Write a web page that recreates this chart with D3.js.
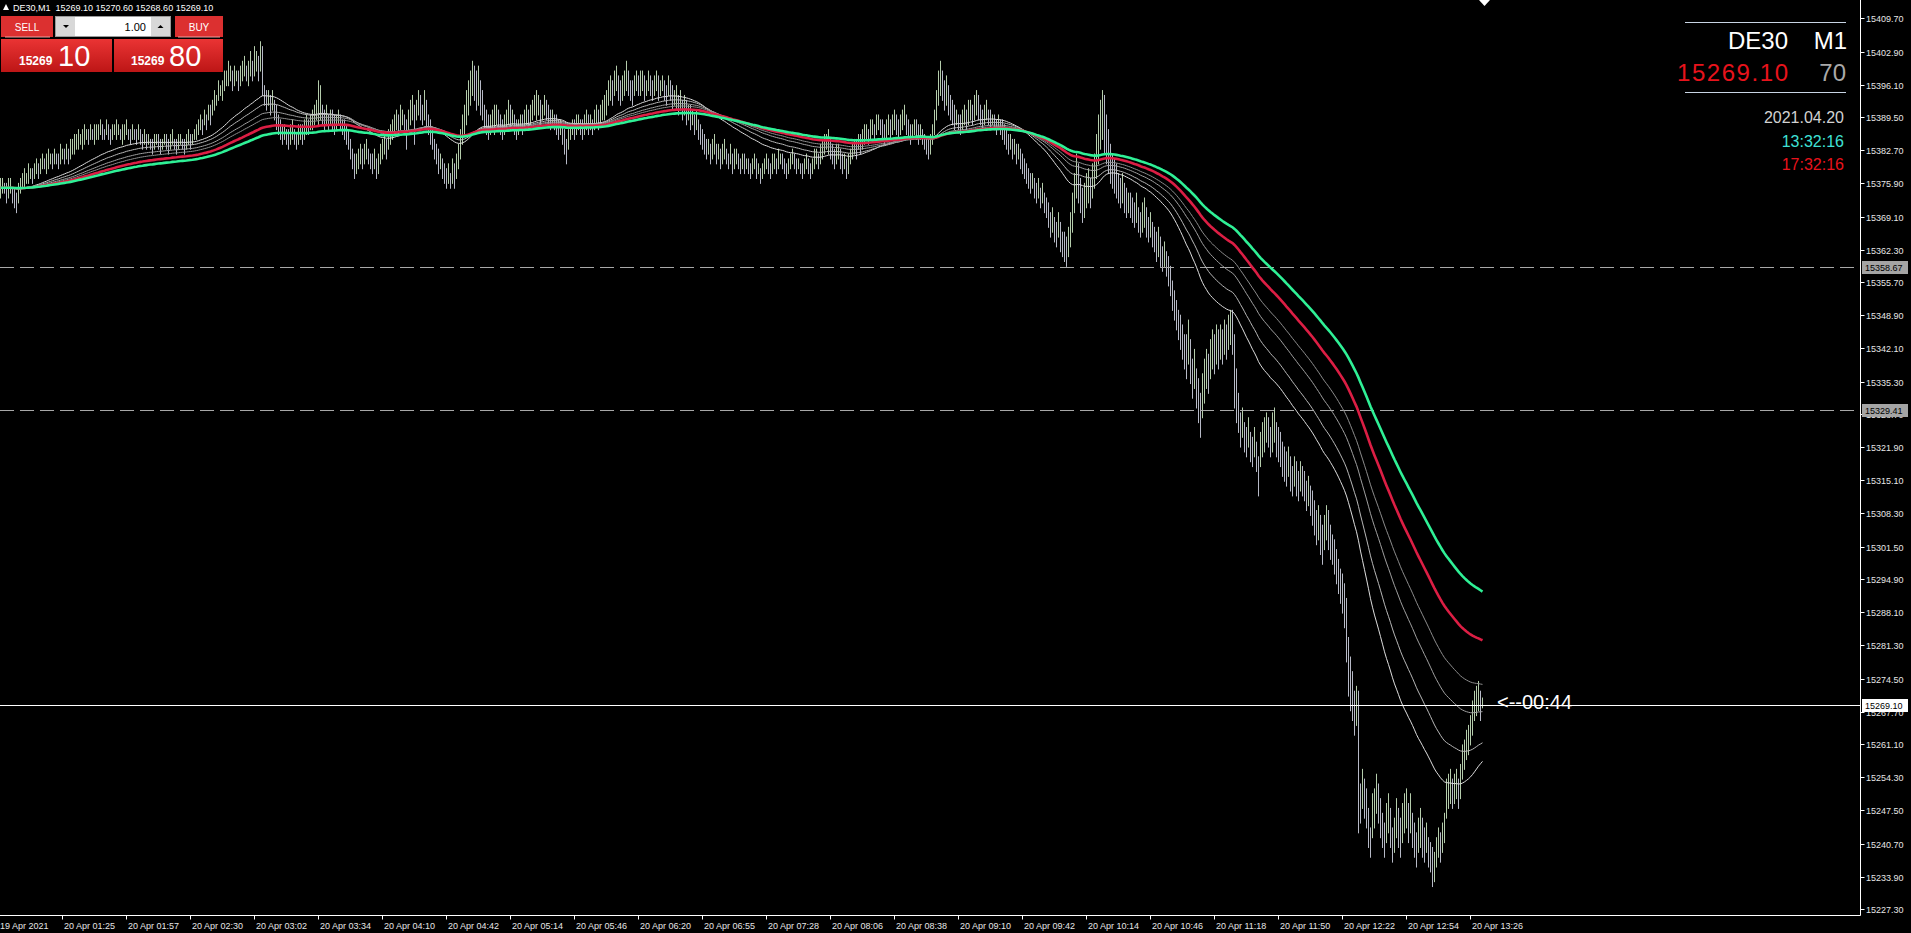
<!DOCTYPE html>
<html>
<head>
<meta charset="utf-8">
<script src="https://cdn.jsdelivr.net/npm/d3@7"></script>
<style>
  body { margin: 0; background: #000; overflow: hidden; }
  svg { display: block; }
  text { font-family: "Liberation Sans", Arial, sans-serif; }
</style>
</head>
<body>
<svg width="1911" height="933"></svg>
<script>
// DE30 M1 bars, one per minute (high / low)
var highs = [
  15377,15377,15376,15376,15377,15377,15375,15375,15374,15376,
  15377,15378,15379,15378,15380,15379,15379,15380,15381,15380,
  15381,15382,15381,15382,15383,15382,15382,15383,15382,15382,
  15384,15383,15383,15384,15383,15385,15385,15386,15386,15387,
  15386,15387,15388,15387,15387,15388,15387,15388,15388,15388,
  15389,15388,15387,15389,15388,15387,15388,15388,15389,15388,
  15387,15388,15388,15389,15387,15387,15388,15387,15387,15388,
  15387,15386,15387,15386,15386,15385,15385,15386,15386,15386,
  15385,15385,15386,15386,15385,15386,15387,15385,15385,15386,
  15386,15385,15385,15386,15387,15386,15386,15387,15388,15389,
  15390,15389,15391,15390,15392,15392,15393,15395,15394,15397,
  15396,15397,15399,15399,15401,15400,15399,15400,15399,15399,
  15400,15401,15402,15400,15401,15403,15401,15404,15403,15402,
  15405,15404,15396,15395,15395,15394,15395,15393,15392,15390,
  15389,15388,15388,15387,15387,15388,15389,15387,15386,15388,
  15388,15388,15389,15390,15389,15390,15391,15392,15393,15397,
  15396,15392,15391,15392,15390,15391,15391,15390,15390,15391,
  15390,15389,15389,15388,15387,15385,15383,15382,15382,15383,
  15384,15383,15384,15385,15383,15382,15382,15383,15381,15382,
  15384,15385,15386,15385,15387,15388,15389,15390,15391,15390,
  15392,15391,15390,15389,15391,15393,15394,15392,15393,15395,
  15394,15392,15395,15393,15390,15389,15387,15385,15384,15383,
  15382,15381,15380,15379,15380,15378,15381,15380,15382,15384,
  15387,15390,15392,15395,15397,15399,15401,15400,15399,15400,
  15397,15395,15392,15391,15390,15390,15391,15392,15392,15391,
  15390,15389,15390,15391,15393,15392,15391,15390,15389,15389,
  15390,15390,15391,15392,15391,15392,15393,15394,15395,15394,
  15393,15392,15394,15393,15392,15391,15391,15390,15390,15389,
  15389,15388,15387,15385,15387,15388,15389,15389,15390,15390,
  15389,15389,15390,15391,15390,15390,15389,15391,15392,15391,
  15392,15393,15394,15395,15397,15398,15397,15399,15400,15398,
  15397,15398,15399,15401,15399,15397,15397,15398,15399,15398,
  15399,15399,15398,15397,15399,15398,15397,15398,15399,15398,
  15397,15398,15397,15396,15398,15397,15396,15395,15396,15394,
  15395,15393,15394,15393,15392,15392,15391,15390,15391,15389,
  15388,15387,15386,15385,15385,15384,15385,15386,15384,15384,
  15383,15384,15385,15383,15382,15384,15382,15383,15383,15382,
  15381,15382,15382,15381,15381,15380,15381,15382,15381,15380,
  15379,15380,15381,15382,15381,15380,15382,15382,15381,15383,
  15382,15382,15381,15380,15381,15382,15383,15382,15381,15381,
  15380,15380,15381,15382,15381,15380,15381,15383,15383,15382,
  15384,15385,15386,15386,15387,15385,15384,15383,15384,15384,
  15383,15382,15382,15381,15382,15383,15384,15385,15385,15386,
  15386,15387,15388,15388,15387,15389,15389,15388,15390,15390,
  15389,15389,15388,15389,15390,15389,15390,15391,15390,15389,
  15390,15391,15392,15390,15389,15388,15388,15389,15389,15388,
  15388,15387,15386,15385,15385,15386,15388,15391,15395,15399,
  15401,15399,15397,15398,15396,15394,15393,15392,15391,15390,
  15390,15391,15392,15391,15393,15393,15392,15394,15395,15394,
  15392,15391,15392,15393,15391,15391,15390,15390,15389,15390,
  15389,15389,15388,15387,15386,15386,15385,15385,15384,15384,
  15383,15382,15381,15380,15379,15378,15378,15377,15376,15377,
  15375,15376,15374,15373,15372,15370,15371,15369,15368,15370,
  15368,15366,15366,15365,15367,15370,15374,15378,15382,15380,
  15377,15375,15376,15378,15379,15377,15380,15382,15386,15390,
  15393,15395,15394,15390,15387,15384,15382,15381,15380,15378,
  15377,15378,15376,15375,15374,15374,15373,15372,15374,15371,
  15370,15372,15373,15371,15369,15370,15368,15367,15366,15367,
  15365,15363,15364,15362,15361,15359,15356,15354,15352,15350,
  15349,15347,15345,15345,15348,15344,15340,15342,15338,15336,
  15333,15337,15340,15342,15341,15344,15346,15345,15347,15346,
  15347,15346,15348,15347,15349,15350,15350,15345,15338,15333,
  15329,15330,15327,15326,15328,15325,15324,15326,15323,15320,
  15325,15327,15328,15329,15328,15326,15329,15330,15327,15326,
  15325,15323,15322,15321,15322,15320,15318,15320,15319,15317,
  15319,15318,15317,15315,15316,15314,15313,15311,15309,15310,
  15308,15306,15308,15310,15309,15306,15304,15303,15301,15299,
  15297,15296,15294,15291,15283,15279,15276,15272,15273,15272,
  15253,15256,15254,15252,15248,15244,15251,15252,15255,15253,
  15250,15247,15245,15249,15251,15248,15244,15246,15250,15248,
  15246,15249,15251,15252,15249,15251,15247,15245,15243,15246,
  15248,15246,15244,15245,15242,15241,15240,15239,15242,15244,
  15243,15245,15247,15254,15255,15256,15254,15255,15256,15254,
  15257,15261,15262,15264,15265,15267,15270,15272,15273,15274,
  15272,15270.6
];
var lows = [
  15373,15374,15374,15372,15373,15374,15372,15371,15370,15372,
  15374,15375,15375,15376,15376,15377,15376,15377,15378,15377,
  15378,15379,15379,15378,15379,15380,15379,15380,15380,15379,
  15380,15381,15380,15381,15380,15381,15382,15382,15383,15383,
  15384,15383,15384,15385,15384,15385,15385,15384,15385,15385,
  15386,15385,15385,15386,15385,15384,15385,15386,15385,15386,
  15385,15384,15385,15386,15385,15384,15385,15385,15384,15385,
  15384,15383,15384,15383,15384,15383,15382,15383,15384,15383,
  15382,15383,15384,15383,15382,15383,15384,15383,15382,15383,
  15384,15383,15382,15383,15384,15383,15384,15385,15385,15386,
  15387,15386,15388,15387,15389,15388,15390,15391,15392,15393,
  15394,15393,15395,15396,15396,15397,15395,15396,15397,15395,
  15396,15397,15398,15397,15396,15398,15397,15398,15399,15397,
  15399,15394,15392,15391,15392,15390,15391,15389,15387,15386,
  15385,15384,15385,15384,15383,15384,15385,15384,15383,15384,
  15385,15384,15385,15386,15386,15387,15387,15388,15389,15388,
  15389,15388,15387,15388,15387,15388,15387,15386,15387,15388,
  15387,15386,15385,15384,15383,15381,15379,15377,15378,15379,
  15380,15379,15380,15381,15380,15379,15378,15379,15377,15378,
  15380,15381,15382,15381,15383,15384,15385,15386,15387,15386,
  15387,15388,15387,15383,15387,15388,15389,15384,15389,15390,
  15389,15388,15389,15387,15386,15384,15383,15381,15380,15378,
  15379,15377,15376,15375,15376,15375,15376,15375,15377,15379,
  15381,15384,15386,15388,15390,15392,15394,15393,15391,15392,
  15390,15389,15387,15386,15385,15386,15387,15386,15388,15387,
  15386,15385,15386,15387,15388,15387,15388,15386,15385,15386,
  15387,15386,15387,15388,15387,15388,15389,15390,15389,15390,
  15388,15389,15390,15389,15388,15387,15388,15387,15386,15385,
  15386,15384,15382,15380,15383,15385,15386,15385,15386,15387,
  15386,15385,15386,15387,15386,15387,15386,15387,15388,15387,
  15388,15389,15389,15390,15392,15393,15392,15394,15395,15393,
  15392,15393,15394,15395,15394,15393,15392,15394,15395,15394,
  15394,15395,15393,15394,15395,15394,15393,15394,15395,15393,
  15394,15395,15393,15392,15394,15393,15391,15392,15391,15390,
  15391,15389,15390,15388,15389,15387,15388,15386,15387,15385,
  15384,15383,15382,15381,15382,15380,15381,15382,15380,15381,
  15379,15380,15381,15380,15379,15380,15378,15379,15380,15379,
  15378,15379,15378,15379,15378,15377,15378,15379,15377,15378,
  15376,15377,15378,15379,15378,15377,15378,15379,15378,15379,
  15380,15379,15378,15377,15378,15379,15380,15379,15378,15379,
  15378,15377,15378,15379,15378,15377,15378,15379,15380,15379,
  15380,15381,15382,15383,15382,15381,15380,15379,15380,15381,
  15379,15378,15379,15377,15378,15380,15381,15382,15381,15383,
  15382,15383,15384,15385,15384,15385,15386,15385,15386,15387,
  15386,15385,15384,15385,15386,15385,15386,15387,15386,15385,
  15386,15387,15388,15386,15385,15384,15385,15386,15385,15384,
  15385,15384,15383,15382,15381,15382,15384,15386,15389,15392,
  15394,15393,15391,15392,15390,15389,15388,15387,15388,15387,
  15386,15387,15388,15387,15388,15389,15388,15389,15390,15389,
  15388,15387,15388,15389,15388,15387,15388,15387,15386,15387,
  15386,15385,15384,15383,15382,15383,15381,15382,15380,15381,
  15379,15378,15377,15376,15375,15374,15375,15373,15372,15373,
  15371,15372,15370,15369,15367,15365,15366,15364,15363,15365,
  15362,15361,15360,15359,15361,15363,15366,15370,15373,15372,
  15370,15368,15369,15371,15372,15371,15373,15375,15377,15380,
  15383,15385,15382,15380,15378,15376,15375,15374,15373,15372,
  15371,15372,15370,15369,15370,15369,15368,15367,15368,15366,
  15365,15366,15367,15365,15364,15365,15363,15362,15360,15361,
  15359,15358,15359,15357,15355,15353,15350,15348,15346,15344,
  15342,15340,15338,15336,15339,15335,15332,15334,15330,15327,
  15324,15328,15331,15334,15333,15336,15338,15337,15339,15338,
  15340,15339,15341,15340,15342,15343,15341,15330,15327,15325,
  15322,15324,15321,15320,15322,15319,15318,15320,15317,15312,
  15318,15320,15321,15323,15322,15320,15321,15323,15320,15319,
  15318,15316,15315,15314,15316,15313,15312,15314,15312,15311,
  15313,15312,15311,15309,15310,15308,15306,15304,15302,15303,
  15300,15298,15301,15303,15301,15299,15298,15296,15294,15292,
  15290,15288,15285,15278,15271,15268,15266,15263,15265,15243,
  15245,15248,15246,15244,15240,15238,15242,15244,15247,15245,
  15242,15240,15238,15241,15243,15240,15237,15239,15242,15240,
  15238,15241,15243,15244,15241,15243,15240,15238,15236,15239,
  15240,15238,15237,15239,15236,15235,15232,15233,15236,15238,
  15237,15239,15241,15246,15248,15249,15248,15249,15250,15248,
  15250,15254,15256,15258,15259,15261,15263,15266,15267,15268,
  15266,15268.6
];

// moving averages (EMA on median price)
var grayPeriods = [50, 68, 90, 108];
var grayColors = ["#dedede", "#b8b8b8", "#a0a0a0", "#8c8c8c"];
var redPeriod = 138;
var greenPeriod = 175;

var yTickLabels = ["15409.70","15402.90","15396.10","15389.50","15382.70","15375.90","15369.10",
  "15362.30","15355.70","15348.90","15342.10","15335.30","15328.70","15321.90","15315.10",
  "15308.30","15301.50","15294.90","15288.10","15281.30","15274.50","15267.70","15261.10",
  "15254.30","15247.50","15240.70","15233.90","15227.30"];
var timeLabels = ["19 Apr 2021","20 Apr 01:25","20 Apr 01:57","20 Apr 02:30","20 Apr 03:02",
  "20 Apr 03:34","20 Apr 04:10","20 Apr 04:42","20 Apr 05:14","20 Apr 05:46","20 Apr 06:20",
  "20 Apr 06:55","20 Apr 07:28","20 Apr 08:06","20 Apr 08:38","20 Apr 09:10","20 Apr 09:42",
  "20 Apr 10:14","20 Apr 10:46","20 Apr 11:18","20 Apr 11:50","20 Apr 12:22","20 Apr 12:54",
  "20 Apr 13:26"];
var levels = [15358.67, 15329.41];
var bid = 15269.10;

var svg = d3.select("svg");
var n = Math.min(highs.length, lows.length);
var x = d3.scaleLinear().domain([0, 741]).range([0, 1482]);
var y = d3.scaleLinear().domain([15227.3, 15409.7]).range([909, 18.3]);
var axisX = 1860.5, axisY = 915.5;

svg.append("rect").attr("width", 1911).attr("height", 933).attr("fill", "#000");

var med = [];
for (var i = 0; i < n; i++) med.push((highs[i] + lows[i]) / 2);

function ema(src, period) {
  var k = 2 / (period + 1), out = [], prev = src[0];
  src.forEach(function (v, i) {
    prev = i ? v * k + prev * (1 - k) : v;
    out.push(prev);
  });
  return out;
}

// bars
var bars = svg.append("g");
for (var i = 0; i < n; i++) {
  var up = i === 0 || med[i] >= med[i - 1];
  var bx = Math.round(x(i)) + 0.5;
  bars.append("line")
    .attr("x1", bx).attr("x2", bx)
    .attr("y1", y(highs[i])).attr("y2", y(lows[i]) + 1)
    .attr("stroke", up ? "#b4ccab" : "#b6b9c6")
    .attr("stroke-width", 1);
}

// level lines
levels.forEach(function (v) {
  svg.append("line")
    .attr("x1", 0).attr("x2", axisX)
    .attr("y1", Math.round(y(v)) + 0.5).attr("y2", Math.round(y(v)) + 0.5)
    .attr("stroke", "#a8a8a8").attr("stroke-dasharray", "14,6");
});

var line = d3.line()
  .x(function (d, i) { return x(i) + 0.5; })
  .y(function (d) { return y(d); });

grayPeriods.forEach(function (p, j) {
  svg.append("path").attr("d", line(ema(med, p)))
    .attr("fill", "none").attr("stroke", grayColors[j]).attr("stroke-width", 1);
});
svg.append("path").attr("d", line(ema(med, redPeriod)))
  .attr("fill", "none").attr("stroke", "#dc1e44").attr("stroke-width", 2.6);
svg.append("path").attr("d", line(ema(med, greenPeriod)))
  .attr("fill", "none").attr("stroke", "#2ff096").attr("stroke-width", 2.6);

// bid line
var bidY = Math.round(y(bid)) + 0.5;
svg.append("line").attr("x1", 0).attr("x2", axisX).attr("y1", bidY).attr("y2", bidY)
  .attr("stroke", "#ffffff").attr("stroke-width", 1);

svg.append("text").attr("x", x(741) + 15).attr("y", bidY + 3)
  .attr("fill", "#ffffff").attr("font-size", 20).text("<--00:44");

// axes
svg.append("line").attr("x1", axisX).attr("x2", axisX).attr("y1", 0).attr("y2", axisY)
  .attr("stroke", "#ffffff");
svg.append("line").attr("x1", 0).attr("x2", axisX).attr("y1", axisY).attr("y2", axisY)
  .attr("stroke", "#ffffff");

var yt = svg.append("g");
yTickLabels.forEach(function (s) {
  var ty = Math.round(y(+s)) + 0.5;
  yt.append("line").attr("x1", axisX).attr("x2", axisX + 4).attr("y1", ty).attr("y2", ty)
    .attr("stroke", "#ffffff");
  yt.append("text").attr("x", 1866).attr("y", ty).attr("dy", "0.35em")
    .attr("fill", "#e6e6e6").attr("font-size", 9).text(s);
});

var xt = svg.append("g");
timeLabels.forEach(function (s, k) {
  var tx = Math.round(x(32 * k - 1)) + 0.5;
  xt.append("line").attr("x1", tx).attr("x2", tx).attr("y1", axisY).attr("y2", axisY + 4)
    .attr("stroke", "#ffffff");
  xt.append("text").attr("x", tx + 1.5).attr("y", 928.5)
    .attr("fill", "#e6e6e6").attr("font-size", 9).text(s);
});

// price labels on the right (they sit over the axis labels, as in the terminal)
function priceTag(v, fill) {
  var ty = Math.round(y(v));
  svg.append("rect").attr("x", 1862).attr("y", ty - 6).attr("width", 46).attr("height", 13)
    .attr("fill", fill);
  svg.append("text").attr("x", 1865).attr("y", ty + 0.5).attr("dy", "0.35em")
    .attr("fill", "#000").attr("font-size", 9).text(v.toFixed(2));
}
levels.forEach(function (v) { priceTag(v, "#a4a4a4"); });
priceTag(bid, "#ffffff");

// chart shift marker
svg.append("polygon").attr("points", "1479,0 1490,0 1484.5,6").attr("fill", "#ffffff");

// info block, top right
var info = svg.append("g");
info.append("line").attr("x1", 1685).attr("x2", 1846).attr("y1", 22.5).attr("y2", 22.5).attr("stroke", "#c8d4e4");
info.append("line").attr("x1", 1685).attr("x2", 1846).attr("y1", 92.5).attr("y2", 92.5).attr("stroke", "#c8d4e4");
info.append("text").attr("x", 1788).attr("y", 49).attr("text-anchor", "end")
  .attr("fill", "#ffffff").attr("font-size", 24).text("DE30");
info.append("text").attr("x", 1847).attr("y", 49).attr("text-anchor", "end")
  .attr("fill", "#ffffff").attr("font-size", 24).text("M1");
info.append("text").attr("x", 1788).attr("y", 81).attr("text-anchor", "end")
  .attr("fill", "#e8131c").attr("font-size", 24).attr("textLength", 111).text("15269.10");
info.append("text").attr("x", 1846).attr("y", 81).attr("text-anchor", "end")
  .attr("fill", "#a9a9a9").attr("font-size", 24).text("70");
info.append("text").attr("x", 1844).attr("y", 123).attr("text-anchor", "end")
  .attr("fill", "#d2d2d2").attr("font-size", 16).text("2021.04.20");
info.append("text").attr("x", 1844).attr("y", 147).attr("text-anchor", "end")
  .attr("fill", "#3fe0d6").attr("font-size", 16).text("13:32:16");
info.append("text").attr("x", 1844).attr("y", 170).attr("text-anchor", "end")
  .attr("fill", "#e8131c").attr("font-size", 16).text("17:32:16");

// header line
svg.append("polygon").attr("points", "3,10 9,10 6,4").attr("fill", "#ffffff");
svg.append("text").attr("x", 13).attr("y", 11).attr("fill", "#ffffff").attr("font-size", 9)
  .attr("xml:space", "preserve").text("DE30,M1  15269.10 15270.60 15268.60 15269.10");

// one click trading panel
var defs = svg.append("defs");
var grad = defs.append("linearGradient").attr("id", "redgrad").attr("x1", 0).attr("x2", 0).attr("y1", 0).attr("y2", 1);
grad.append("stop").attr("offset", "0%").attr("stop-color", "#ea3434");
grad.append("stop").attr("offset", "100%").attr("stop-color", "#bd1616");

var panel = svg.append("g");
panel.append("rect").attr("x", 1).attr("y", 16).attr("width", 52).attr("height", 21).attr("fill", "#dc3030");
panel.append("rect").attr("x", 175).attr("y", 16).attr("width", 48).attr("height", 21).attr("fill", "#dc3030");
panel.append("line").attr("x1", 5).attr("x2", 50).attr("y1", 37).attr("y2", 37).attr("stroke", "#f3a0a0");
panel.append("line").attr("x1", 178).attr("x2", 220).attr("y1", 37).attr("y2", 37).attr("stroke", "#f3a0a0");
panel.append("text").attr("x", 27).attr("y", 31).attr("text-anchor", "middle")
  .attr("fill", "#ffffff").attr("font-size", 10).text("SELL");
panel.append("text").attr("x", 199).attr("y", 31).attr("text-anchor", "middle")
  .attr("fill", "#ffffff").attr("font-size", 10).text("BUY");

panel.append("rect").attr("x", 55.5).attr("y", 16.5).attr("width", 115).attr("height", 20)
  .attr("fill", "#ffffff").attr("stroke", "#9a9a9a");
panel.append("rect").attr("x", 56).attr("y", 17).attr("width", 19).attr("height", 19).attr("fill", "#d8d8d8");
panel.append("rect").attr("x", 151).attr("y", 17).attr("width", 19).attr("height", 19).attr("fill", "#d8d8d8");
panel.append("polygon").attr("points", "63,25 69,25 66,28").attr("fill", "#000");
panel.append("polygon").attr("points", "157.5,28 163.5,28 160.5,25").attr("fill", "#000");
panel.append("text").attr("x", 146).attr("y", 31).attr("text-anchor", "end")
  .attr("fill", "#000").attr("font-size", 11).text("1.00");

panel.append("rect").attr("x", 1).attr("y", 39).attr("width", 111).attr("height", 33).attr("fill", "url(#redgrad)");
panel.append("rect").attr("x", 114).attr("y", 39).attr("width", 109).attr("height", 33).attr("fill", "url(#redgrad)");
panel.append("text").attr("x", 19).attr("y", 65).attr("fill", "#ffffff")
  .attr("font-size", 12).attr("font-weight", "bold").text("15269");
panel.append("text").attr("x", 58).attr("y", 65.5).attr("fill", "#ffffff")
  .attr("font-size", 29).text("10");
panel.append("text").attr("x", 131).attr("y", 65).attr("fill", "#ffffff")
  .attr("font-size", 12).attr("font-weight", "bold").text("15269");
panel.append("text").attr("x", 169).attr("y", 65.5).attr("fill", "#ffffff")
  .attr("font-size", 29).text("80");
</script>
</body>
</html>
